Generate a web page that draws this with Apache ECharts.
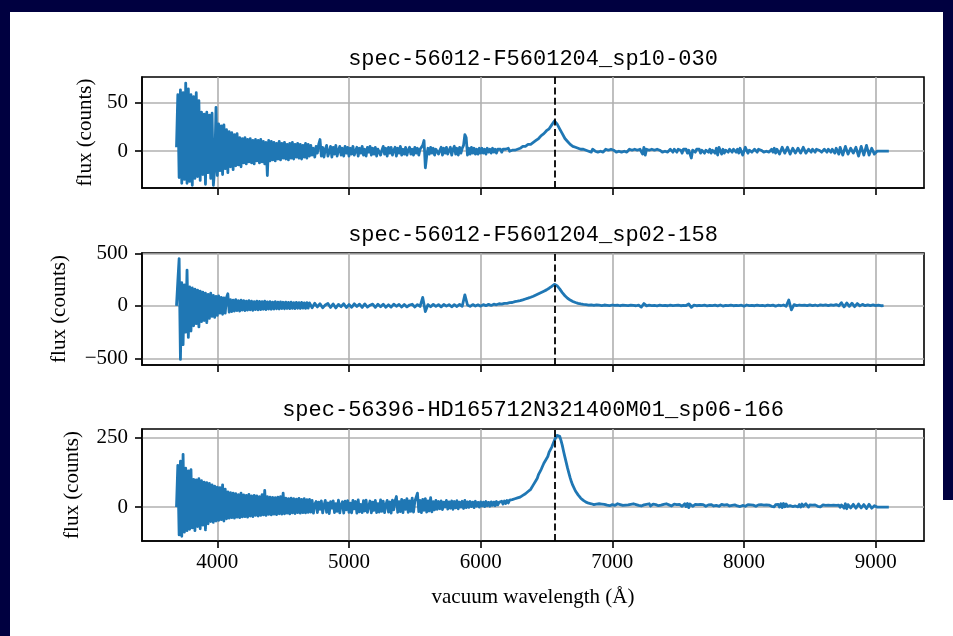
<!DOCTYPE html>
<html>
<head>
<meta charset="utf-8">
<script src="https://cdn.jsdelivr.net/npm/echarts@6/dist/echarts.min.js"></script>
<style>
  html, body { margin: 0; padding: 0; background: #ffffff; overflow: hidden; }
  .frame { position: absolute; background: #000040; }
  #chart { position: absolute; left: 0; top: 0; width: 953px; height: 636px; }
</style>
</head>
<body>
<div class="frame" style="left:0;top:0;width:953px;height:12px"></div>
<div class="frame" style="left:0;top:0;width:10px;height:636px"></div>
<div class="frame" style="left:943px;top:0;width:10px;height:500px"></div>
<div id="chart"></div>
<script>
// ---------------- data ----------------
const titles = [
  'spec-56012-F5601204_sp10-030',
  'spec-56012-F5601204_sp02-158',
  'spec-56396-HD165712N321400M01_sp06-166'
];
const xTicks = [4000, 5000, 6000, 7000, 8000, 9000];
const yTicks1 = [0, 50];
const yTicks2 = [-500, 0, 500];
const yTicks3 = [0, 250];
const halpha = 6563;
const xLabel = 'vacuum wavelength (\u00c5)';
const yLabel = 'flux (counts)';

// [wavelength (Å), flux (counts)]
const spec1 = [
[3690,4],[3700,58],[3710,-27],[3720,63],[3730,-33],[3740,60],[3750,-29],[3760,70],[3770,-33],[3780,64],
[3790,-31],[3800,58],[3810,-35],[3820,56],[3830,-28],[3840,60],[3850,-26],[3860,52],[3870,-30],[3880,40],
[3890,-24],[3900,38],[3910,-34],[3920,40],[3930,-22],[3940,37],[3950,-28],[3960,39],[3970,-35],[3980,-18],
[3990,45],[4000,-25],[4010,28],[4020,-20],[4030,26],[4040,-24],[4050,27],[4060,-18],[4070,22],[4080,-22],
[4090,20],[4100,-16],[4110,19],[4120,-19],[4130,17],[4140,-15],[4150,18],[4160,-14],[4170,14],[4180,-16],
[4190,13],[4200,-12],[4210,14],[4220,-13],[4230,12],[4240,-11],[4250,13],[4260,-12],[4270,11],[4280,-13],
[4290,12],[4300,-10],[4310,11],[4320,-12],[4330,12],[4340,-11],[4350,10],[4360,-13],[4370,9],[4380,-25],
[4390,11],[4400,-10],[4410,10],[4420,-9],[4430,9],[4440,-10],[4450,8],[4460,-8],[4470,10],[4480,-9],
[4490,8],[4500,-7],[4510,9],[4520,-8],[4530,7],[4540,-9],[4550,8],[4560,-7],[4570,9],[4580,-8],
[4590,7],[4600,-6],[4610,8],[4620,-7],[4630,7],[4640,-8],[4650,6],[4660,-6],[4670,8],[4680,-7],
[4690,7],[4700,-5],
[4710,6],[4720,-4],[4730,3],[4740,-6],[4750,5],[4760,-2],[4770,7],[4780,12],[4790,-5],[4800,4],
[4810,-6],[4820,2],[4830,6],[4840,-5],[4850,-1],[4860,5],[4870,-6],[4880,4],[4890,-3],[4900,6],
[4910,-5],[4920,1],[4930,5],[4940,-4],[4950,3],[4960,-5],[4970,5],[4980,-2],[4990,4],[5000,-5],
[5010,3],[5020,-3],[5030,5],[5040,-4],[5050,0],[5060,4],[5070,-5],[5080,3],[5090,-2],[5100,5],
[5110,-4],[5120,2],[5130,-5],[5140,4],[5150,-1],[5160,5],[5170,-4],[5180,3],[5190,-3],[5200,4],
[5210,-5],[5220,2],[5230,4],[5240,-4],[5250,1],[5260,5],[5270,-3],[5280,3],[5290,-5],[5300,4],
[5310,-2],[5320,4],[5330,-4],[5340,1],[5350,4],[5360,-5],[5370,3],[5380,-2],[5390,5],[5400,-4],
[5410,2],[5420,-3],[5430,4],[5440,-4],[5450,1],[5460,4],[5470,-3],[5480,2],[5490,-4],[5500,4],
[5510,-2],[5520,3],[5530,-4],[5540,2],[5550,4],[5560,6],[5570,11],[5580,-17],[5590,-5],[5600,3],
[5610,-3],[5620,4],[5630,-2],[5640,3],[5650,-4],[5660,2],[5670,4],[5680,-3],[5690,1],[5700,4],
[5710,-4],[5720,3],[5730,-2],[5740,4],[5750,-3],[5760,1],[5770,4],[5780,-4],[5790,2],[5800,5],
[5810,-3],[5820,3],[5830,-4],[5840,4],[5850,-2],[5860,3],[5870,6],[5880,17],[5890,14],[5900,-4],
[5910,3],[5920,-3],[5930,4],[5940,-2],[5950,3],[5960,-3],[5970,2],[5980,-3],[5990,3],[6000,-2],
[6010,3],[6020,-2],[6030,2],[6040,-3],[6050,3],[6060,-1],[6070,2],[6080,-2],[6090,3],[6100,-1],
[6110,2],[6120,-2],[6130,2],[6140,0],[6150,2],[6160,-1],[6170,2],[6180,0],[6190,2],[6200,1],
[6210,3],[6220,0],[6230,2],[6240,1],[6250,3],[6260,1],[6270,3],[6280,2],[6290,4],[6300,3],
[6320,5],[6340,5],[6360,7],[6380,7],[6400,9],[6420,11],[6440,13],[6460,16],[6480,18],[6500,21],
[6520,23],[6540,27],[6560,31],[6580,28],[6600,23],[6620,18],[6640,13],[6660,10],[6680,7],[6700,5],
[6720,4],[6740,3],[6760,2],[6780,2],
[6800,1],[6810,2],[6820,0],[6830,1],[6840,-1],[6850,2],[6860,1],[6870,0],[6880,2],[6890,-1],
[6900,1],[6910,0],[6920,2],[6930,-1],[6940,1],[6950,2],[6960,0],[6970,1],[6980,-1],[6990,2],
[7000,0],[7010,1],[7020,2],[7030,-1],[7040,1],[7050,0],[7060,2],[7070,-1],[7080,1],[7090,0],
[7100,2],[7110,-1],[7120,1],[7130,2],[7140,0],[7150,1],[7160,-1],[7170,2],[7180,0],[7190,1],
[7200,-1],[7210,2],[7220,4],[7230,-3],[7240,4],[7250,-4],[7260,2],[7270,0],[7280,1],[7290,-1],
[7300,2],[7310,0],[7320,1],[7330,-1],[7340,2],[7350,0],[7360,1],[7370,2],[7380,-1],[7390,1],
[7400,0],[7410,2],[7420,-1],[7430,1],[7440,2],[7450,0],[7460,-1],[7470,2],[7480,1],[7490,-1],
[7500,2],[7510,0],[7520,1],[7530,-2],[7540,2],[7550,0],[7560,2],[7570,-2],[7580,1],[7590,-3],
[7600,-7],[7610,1],[7620,2],[7630,-1],[7640,2],[7650,0],[7660,2],[7670,-2],[7680,1],[7690,2],
[7700,-2],[7710,1],[7720,2],[7730,-1],[7740,2],[7750,-2],[7760,1],[7770,3],[7780,-2],[7790,3],
[7800,-4],[7810,4],[7820,5],[7830,-3],[7840,2],[7850,-2],[7860,1],[7870,2],[7880,-1],[7890,2],
[7900,0],[7910,-1],[7920,2],[7930,1],[7940,-1],[7950,2],[7960,-2],[7970,3],[7980,4],[7990,-4],
[8000,-5],[8010,4],[8020,3],[8030,-2],[8040,1],[8050,2],[8060,-1],[8070,1],[8080,2],[8090,0],
[8100,-1],[8110,2],[8120,0],[8130,1],[8140,2],[8150,-1],[8160,1],[8170,0],[8180,2],[8190,-1],
[8200,1],[8210,2],[8220,-1],[8230,3],[8240,-2],[8250,2],[8260,4],[8270,-3],[8280,-5],[8290,4],
[8300,5],[8310,-2],[8320,-3],[8330,4],[8340,3],[8350,-3],[8360,-5],[8370,3],[8380,4],[8390,-2],
[8400,-2],[8410,3],[8420,2],[8430,-2],[8440,-3],[8450,4],[8460,4],[8470,-2],[8480,-2],[8490,2],
[8500,1],[8510,-1],[8520,2],[8530,0],[8540,-1],[8550,2],[8560,0],[8570,1],[8580,2],[8590,-1],
[8600,-1],[8610,2],[8620,1],[8630,-1],[8640,2],[8650,0],[8660,-1],[8670,2],[8680,1],[8690,-2],
[8700,3],[8710,0],[8720,-3],[8730,4],[8740,6],[8750,-4],[8760,-6],[8770,5],[8780,4],[8790,-3],
[8800,-3],[8810,3],[8820,2],[8830,-2],[8840,-4],[8850,4],[8860,6],[8870,-5],[8880,-7],[8890,5],
[8900,7],[8910,-4],[8920,-5],[8930,6],[8940,5],[8950,-4],[8960,-6],[8970,3],[8980,4],[8990,-3],
[9000,-3],[9010,0],[9100,0]
];

const spec2 = [
[3690,0],[3700,230],[3710,450],[3720,-510],[3730,220],[3740,-370],[3750,200],[3760,-250],[3770,340],[3780,-300],
[3790,180],[3800,-240],[3810,170],[3820,-190],[3830,160],[3840,-170],[3850,150],[3860,-200],[3870,140],[3880,-150],
[3890,130],[3900,-140],[3910,120],[3920,-160],[3930,110],[3940,-120],[3950,120],[3960,-100],[3970,100],[3980,-110],
[3990,90],[4000,-90],[4010,95],[4020,-70],[4030,80],[4040,-80],[4050,75],[4060,-70],[4070,80],[4080,115],
[4090,-60],[4100,60],[4110,-55],[4120,55],[4130,-50],[4140,60],[4150,-45],[4160,50],[4170,-50],[4180,55],
[4190,-40],[4200,50],[4210,-45],[4220,45],[4230,-40],[4240,50],[4250,-38],[4260,45],[4270,-42],[4280,40],
[4290,-35],[4300,45],[4310,-38],[4320,42],[4330,-35],[4340,40],[4350,-32],[4360,45],[4370,-36],[4380,38],
[4390,-30],[4400,40],[4410,-32],[4420,36],[4430,-30],[4440,40],[4450,-28],[4460,35],[4470,-30],[4480,38],
[4490,-26],[4500,34],[4510,-28],[4520,36],[4530,-25],[4540,32],[4550,-27],[4560,35],[4570,-24],[4580,30],
[4590,-26],[4600,33],[4610,-23],[4620,30],[4630,-25],[4640,32],[4650,-22],[4660,29],[4670,-24],[4680,30],
[4690,-21],[4700,28],
[4720,-18],[4740,24],[4760,-10],[4780,20],[4800,-19],[4820,8],[4840,22],[4860,-15],[4880,18],[4900,-20],
[4920,14],[4940,-8],[4960,20],[4980,-16],[5000,12],[5020,-14],[5040,19],[5060,-6],[5080,16],[5100,-15],
[5120,18],[5140,-12],[5160,6],[5180,17],[5200,-14],[5220,15],[5240,-8],[5260,16],[5280,-13],[5300,10],
[5320,-12],[5340,16],[5360,-4],[5380,14],[5400,-12],[5420,13],[5440,-10],[5460,8],[5480,15],[5500,-11],
[5520,12],[5540,-6],[5560,80],[5580,-55],[5600,12],[5620,-9],[5640,14],[5660,-5],[5680,12],[5700,-10],
[5720,13],[5740,-3],[5760,12],[5780,-9],[5800,11],[5820,-6],[5840,13],[5860,-4],[5880,105],[5900,8],
[5920,-5],[5940,12],[5960,-2],[5980,10],[6000,-3],[6020,12],[6040,2],[6060,14],[6080,4],[6100,16],
[6120,10],[6140,20],[6160,16],[6180,24],[6200,24],[6220,30],[6240,32],[6260,40],[6280,44],[6300,50],
[6320,57],[6340,65],[6360,73],[6380,82],[6400,92],[6420,104],[6440,116],[6460,128],[6480,140],[6500,152],
[6520,168],[6540,186],[6560,205],[6580,192],[6600,162],[6620,126],[6640,96],[6660,72],[6680,55],[6700,42],
[6720,32],[6740,24],[6760,18],[6780,14],
[6800,11],[6820,7],[6840,10],[6860,4],[6880,9],[6900,6],[6920,3],[6940,8],[6960,5],[6980,2],
[7000,8],[7020,4],[7040,7],[7060,1],[7080,6],[7100,5],[7120,2],[7140,7],[7160,4],[7180,1],
[7200,7],[7220,-12],[7240,22],[7260,0],[7280,6],[7300,3],[7320,5],[7340,0],[7360,6],[7380,3],
[7400,5],[7420,1],[7440,7],[7460,2],[7480,4],[7500,6],[7520,1],[7540,5],[7560,3],[7580,18],
[7600,-14],[7620,6],[7640,1],[7660,5],[7680,3],[7700,6],[7720,0],[7740,5],[7760,3],[7780,6],
[7800,0],[7820,8],[7840,-2],[7860,5],[7880,2],[7900,6],[7920,1],[7940,4],[7960,3],[7980,6],
[8000,-3],[8020,8],[8040,2],[8060,5],[8080,1],[8100,6],[8120,3],[8140,5],[8160,0],[8180,6],
[8200,2],[8220,7],[8240,-2],[8260,6],[8280,1],[8300,8],[8320,-4],[8340,55],[8360,-38],[8380,12],
[8400,2],[8420,8],[8440,4],[8460,7],[8480,2],[8500,9],[8520,3],[8540,8],[8560,1],[8580,10],
[8600,4],[8620,9],[8640,2],[8660,10],[8680,4],[8700,12],[8720,0],[8740,30],[8760,-10],[8780,28],
[8800,-5],[8820,25],[8840,-8],[8860,22],[8880,0],[8900,14],[8920,2],[8940,10],[8960,3],[8980,9],
[9000,2],[9020,6],[9040,1],[9060,3]
];

const spec3 = [
[3690,0],[3700,150],[3710,-100],[3720,165],[3730,-105],[3740,190],[3750,-90],[3760,140],[3770,-85],[3780,130],
[3790,-80],[3800,135],[3810,-75],[3820,100],[3830,-85],[3840,98],[3850,-70],[3860,102],[3870,-78],[3880,95],
[3890,-65],[3900,90],[3910,-82],[3920,88],[3930,-60],[3940,85],[3950,-52],[3960,80],[3970,-55],[3980,75],
[3990,-50],[4000,72],[4010,-48],[4020,70],[4030,-45],[4040,80],[4050,-50],[4060,65],[4070,-42],[4080,55],
[4090,-40],[4100,52],[4110,-38],[4120,50],[4130,-40],[4140,48],[4150,-36],[4160,45],[4170,-38],[4180,50],
[4190,-35],[4200,44],[4210,-34],[4220,42],[4230,-36],[4240,46],[4250,-32],[4260,40],[4270,-34],[4280,42],
[4290,-30],[4300,40],[4310,-32],[4320,38],[4330,-30],[4340,45],[4350,-28],[4360,60],[4370,-30],[4380,38],
[4390,-26],[4400,36],[4410,-28],[4420,35],[4430,-25],[4440,34],[4450,-27],[4460,36],[4470,-24],[4480,38],
[4490,-25],[4500,50],[4510,-24],[4520,32],[4530,-22],[4540,30],[4550,-24],[4560,32],[4570,-21],[4580,30],
[4590,-23],[4600,29],[4610,-20],[4620,31],[4630,-22],[4640,28],[4650,-20],[4660,30],[4670,-21],[4680,27],
[4690,-19],[4700,28],
[4710,-18],[4720,24],[4730,-22],[4740,10],[4750,20],[4760,-20],[4770,18],[4780,-8],[4790,22],[4800,-21],
[4810,6],[4820,24],[4830,-19],[4840,15],[4850,-23],[4860,20],[4870,-4],[4880,22],[4890,-20],[4900,12],
[4910,-15],[4920,25],[4930,-21],[4940,8],[4950,19],[4960,-22],[4970,21],[4980,-10],[4990,23],[5000,-19],
[5010,14],[5020,-21],[5030,24],[5040,-6],[5050,20],[5060,-22],[5070,26],[5080,-17],[5090,10],[5100,-20],
[5110,23],[5120,-14],[5130,25],[5140,-19],[5150,4],[5160,22],[5170,-21],[5180,18],[5190,-12],[5200,24],
[5210,-20],[5220,12],[5230,-18],[5240,26],[5250,-15],[5260,21],[5270,-20],[5280,8],[5290,24],[5300,-18],
[5310,19],[5320,-22],[5330,25],[5340,-10],[5350,22],[5360,38],[5370,-19],[5380,20],[5390,-16],[5400,28],
[5410,-20],[5420,24],[5430,-8],[5440,30],[5450,-19],[5460,22],[5470,-15],[5480,32],[5490,-18],[5500,20],
[5510,26],[5520,50],[5530,-16],[5540,24],[5550,-20],[5560,28],[5570,-12],[5580,30],[5590,-18],[5600,22],
[5610,-14],[5620,34],[5630,-17],[5640,20],[5650,-10],[5660,24],[5670,-8],[5680,20],[5690,-6],[5700,22],
[5710,-9],[5720,18],[5730,0],[5740,24],[5750,-7],[5760,19],[5770,-4],[5780,22],[5790,-8],[5800,20],
[5810,-3],[5820,23],[5830,-6],[5840,18],[5850,0],[5860,21],[5870,-5],[5880,24],[5890,-2],[5900,19],
[5910,-1],[5920,20],[5930,2],[5940,18],[5950,-2],[5960,21],[5970,3],[5980,17],[5990,0],[6000,19],
[6010,4],[6020,18],[6030,2],[6040,20],[6050,5],[6060,17],[6070,3],[6080,19],[6090,6],[6100,18],
[6110,5],[6120,20],[6130,8],[6140,17],[6150,10],[6160,21],[6170,11],[6180,22],[6190,13],[6200,24],
[6210,15],[6220,25],[6230,18],[6240,27],[6250,20],[6260,30],[6270,24],[6280,33],[6290,27],[6300,36],
[6310,31],[6320,42],[6330,37],[6340,48],[6350,44],[6360,56],[6370,52],[6380,64],[6390,66],[6400,80],
[6410,82],[6420,96],[6430,104],[6440,118],[6450,122],[6460,136],[6470,142],[6480,158],[6490,160],[6500,174],
[6510,182],[6520,198],[6530,200],[6540,216],[6550,228],[6560,240],[6570,250],[6580,258],[6590,262],[6600,255],
[6610,240],[6620,222],[6630,200],[6640,180],[6650,160],[6660,140],[6670,122],[6680,105],[6690,90],[6700,78],
[6720,58],[6740,44],[6760,32],[6780,24],
[6800,18],[6810,16],[6820,14],[6830,15],[6840,12],[6850,13],[6860,9],[6870,13],[6880,11],[6890,8],
[6900,12],[6910,9],[6920,11],[6930,6],[6940,10],[6950,12],[6960,7],[6970,11],[6980,5],[6990,10],
[7000,9],[7010,12],[7020,6],[7030,10],[7040,12],[7050,5],[7060,9],[7070,11],[7080,6],[7090,10],
[7100,7],[7110,12],[7120,8],[7130,4],[7140,10],[7150,9],[7160,12],[7170,5],[7180,9],[7190,11],
[7200,6],[7210,10],[7220,4],[7230,11],[7240,8],[7250,5],[7260,10],[7270,9],[7280,12],[7290,4],
[7300,8],[7310,11],[7320,6],[7330,9],[7340,10],[7350,5],[7360,11],[7370,7],[7380,4],[7390,10],
[7400,9],[7410,12],[7420,5],[7430,8],[7440,10],[7450,4],[7460,9],[7470,11],[7480,6],[7490,9],
[7500,4],[7510,10],[7520,8],[7530,3],[7540,9],[7550,12],[7560,2],[7570,13],[7580,-2],[7590,11],
[7600,14],[7610,3],[7620,8],[7630,10],[7640,5],[7650,9],[7660,6],[7670,10],[7680,4],[7690,9],
[7700,7],[7710,3],[7720,10],[7730,8],[7740,5],[7750,9],[7760,10],[7770,4],[7780,8],[7790,6],
[7800,9],[7810,3],[7820,8],[7830,10],[7840,5],[7850,7],[7860,2],[7870,9],[7880,8],[7890,4],
[7900,9],[7910,6],[7920,3],[7930,8],[7940,9],[7950,4],[7960,7],[7970,2],[7980,9],[7990,6],
[8000,8],[8010,3],[8020,7],[8030,9],[8040,4],[8050,8],[8060,2],[8070,7],[8080,9],[8090,3],
[8100,6],[8110,8],[8120,2],[8130,9],[8140,5],[8150,7],[8160,3],[8170,8],[8180,1],[8190,7],
[8200,10],[8210,3],[8220,8],[8230,1],[8240,9],[8250,4],[8260,10],[8270,0],[8280,12],[8290,-2],
[8300,13],[8310,1],[8320,11],[8330,3],[8340,8],[8350,5],[8360,9],[8370,2],[8380,8],[8390,4],
[8400,10],[8410,1],[8420,9],[8430,0],[8440,11],[8450,3],[8460,-2],[8470,12],[8480,13],[8490,0],
[8500,8],[8510,4],[8520,7],[8530,2],[8540,8],[8550,5],[8560,3],[8570,7],[8580,1],[8590,6],
[8600,8],[8610,2],[8620,6],[8630,4],[8640,7],[8650,1],[8660,6],[8670,3],[8680,7],[8690,0],
[8700,6],[8710,2],[8720,7],[8730,-1],[8740,8],[8750,10],[8760,-4],[8770,12],[8780,-6],[8790,9],
[8800,12],[8810,-3],[8820,-5],[8830,10],[8840,8],[8850,-4],[8860,-6],[8870,11],[8880,10],[8890,-3],
[8900,-4],[8910,9],[8920,8],[8930,-5],[8940,-7],[8950,10],[8960,9],[8970,-4],[8980,-5],[8990,5],
[9000,4],[9010,0],[9100,0]
];

// axis extents of each panel (value space)
const yRange1 = [-37.8, 76.2];
const yRange2 = [-563, 503];
const yRange3 = [-122, 281];
const xRange = [3428, 9367];

// ---------------- chart ----------------
const SERIF = '"Liberation Serif", "DejaVu Serif", serif';
const MONO = '"Liberation Mono", "DejaVu Sans Mono", monospace';
const chart = echarts.init(document.getElementById('chart'), null, { renderer: 'canvas' });

const panels = [
  { top: 77, height: 111, spec: spec1, yr: yRange1, yt: yTicks1, nameGap: 46, titleY: 48 },
  { top: 253, height: 112, spec: spec2, yr: yRange2, yt: yTicks2, nameGap: 72, titleY: 224 },
  { top: 429, height: 112, spec: spec3, yr: yRange3, yt: yTicks3, nameGap: 59, titleY: 399 }
];
const PLOT_LEFT = 142, PLOT_W = 782;
const AX = { color: '#000', width: 1.6 };

const option = {
  animation: false,
  backgroundColor: 'transparent',
  grid: panels.map(p => ({
    left: PLOT_LEFT, width: PLOT_W, top: p.top, height: p.height,
    show: true, borderColor: '#000', borderWidth: 1.6, backgroundColor: 'transparent'
  })),
  xAxis: panels.map((p, i) => ({
    type: 'value', gridIndex: i, min: xRange[0], max: xRange[1],
    axisLine: { show: true, onZero: false, lineStyle: AX },
    axisTick: { show: true, length: 7, lineStyle: AX, customValues: xTicks },
    axisLabel: {
      show: i === 2, customValues: xTicks, margin: 11,
      fontFamily: SERIF, fontSize: 21, color: '#000',
      formatter: v => String(v)
    },
    splitLine: { show: true, lineStyle: { color: '#b0b0b0', width: 1.6 } },
    name: i === 2 ? xLabel : '',
    nameLocation: 'middle', nameGap: 46,
    nameTextStyle: { fontFamily: SERIF, fontSize: 21, color: '#000' }
  })),
  yAxis: panels.map((p, i) => ({
    type: 'value', gridIndex: i, min: p.yr[0], max: p.yr[1],
    axisLine: { show: true, onZero: false, lineStyle: AX },
    axisTick: { show: true, length: 7, lineStyle: AX, customValues: p.yt },
    axisLabel: {
      show: true, customValues: p.yt, margin: 14,
      fontFamily: SERIF, fontSize: 21, color: '#000',
      formatter: v => String(v).replace('-', '\u2212')
    },
    splitLine: { show: true, lineStyle: { color: '#b0b0b0', width: 1.6 } },
    name: yLabel, nameLocation: 'middle', nameGap: p.nameGap,
    nameTextStyle: { fontFamily: SERIF, fontSize: 21, color: '#000' }
  })),
  series: [].concat(
    panels.map((p, i) => ({
      type: 'line', xAxisIndex: i, yAxisIndex: i, data: p.spec,
      showSymbol: false, symbol: 'none', sampling: null, clip: true,
      lineStyle: { color: '#1f77b4', width: 2.8, join: 'round' }, z: 2
    })),
    panels.map((p, i) => ({
      type: 'line', xAxisIndex: i, yAxisIndex: i, data: [], z: 5,
      markLine: {
        silent: true, animation: false, symbol: ['none', 'none'],
        label: { show: false },
        lineStyle: { color: '#000', width: 1.8, type: [7, 3.4] },
        data: [{ xAxis: halpha }]
      }
    }))
  ),
  graphic: panels.map((p, i) => ({
    type: 'text', x: PLOT_LEFT + PLOT_W / 2, y: p.titleY,
    style: {
      text: titles[i], fill: '#000', font: '22px ' + MONO,
      textAlign: 'center', verticalAlign: 'top', textVerticalAlign: 'top'
    }
  }))
};
chart.setOption(option);
</script>
</body>
</html>
